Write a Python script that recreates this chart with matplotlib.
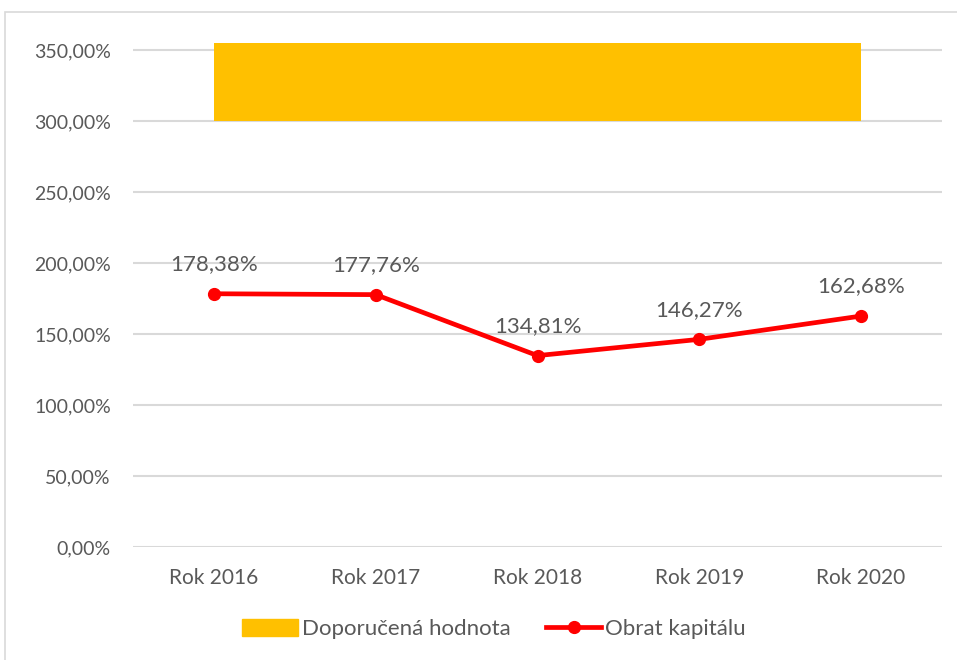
import matplotlib.pyplot as plt
from matplotlib.patches import Rectangle
from matplotlib.lines import Line2D

# chart data
years = ["Rok 2016", "Rok 2017", "Rok 2018", "Rok 2019", "Rok 2020"]
obrat = [178.38, 177.76, 134.81, 146.27, 162.68]  # Obrat kapitálu, %
doporuceno_dolni = [300, 300, 300, 300, 300]      # Doporučená hodnota, lower edge
doporuceno_horni = [355, 355, 355, 355, 355]      # upper edge (chart top)
y_ticks = [0, 50, 100, 150, 200, 250, 300, 350]

TEXT = "#595959"
plt.rcParams['font.family'] = ['Lato', 'DejaVu Sans']

fig = plt.figure(figsize=(9.57, 6.6), dpi=100)
ax = fig.add_axes([133 / 957, 113 / 660, 809 / 957, 504 / 660])

# chart frame
fig.patches.append(Rectangle((5 / 957, -0.01), 1.05, (660 - 12) / 660 + 0.01,
                             transform=fig.transFigure, fill=False,
                             edgecolor="#D9D9D9", linewidth=1.2))

x = range(len(years))
ax.fill_between(x, doporuceno_dolni, doporuceno_horni, color="#FFC000",
                linewidth=0, zorder=2)
ax.plot(x, obrat, color="#FF0000", linewidth=3.4, marker="o",
        markersize=8.5, zorder=3)

for i, v in enumerate(obrat):
    ax.annotate(f"{v:.2f}%".replace(".", ","), (i, v), xytext=(0, 17),
                textcoords="offset points", ha="center", va="baseline",
                fontsize=16, color=TEXT)

ax.set_xlim(-0.5, len(years) - 0.5)
ax.set_ylim(0, 355)
ax.set_xticks(list(x))
ax.set_xticklabels(years)
ax.set_yticks(y_ticks)
ax.set_yticklabels([f"{t:.2f}%".replace(".", ",") for t in y_ticks])
ax.tick_params(axis="both", length=0, labelsize=14, colors=TEXT)
ax.tick_params(axis="x", labelsize=15, pad=15)
ax.tick_params(axis="y", pad=16)
ax.grid(axis="y", color="#D9D9D9", linewidth=1.5, zorder=0)
ax.set_axisbelow(True)
for s in ax.spines.values():
    s.set_visible(False)

handles = [Rectangle((0, 0), 1, 1, color="#FFC000"),
           Line2D([], [], color="#FF0000", linewidth=3.4, marker="o",
                  markersize=8.5)]
fig.legend(handles, ["Doporučená hodnota", "Obrat kapitálu"], loc="center",
           bbox_to_anchor=(494 / 957, 31 / 660), ncol=2, frameon=False,
           fontsize=16, labelcolor=TEXT, handlelength=2.5, handleheight=0.8,
           handletextpad=0.18, columnspacing=1.6)

fig.savefig("out.png", dpi=100)
